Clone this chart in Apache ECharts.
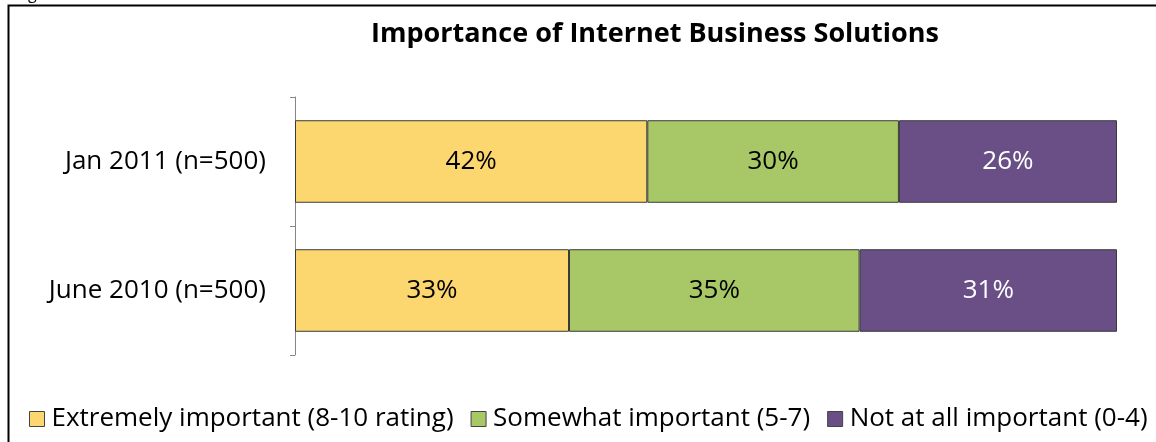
<!DOCTYPE html>
<html><head><meta charset="utf-8">
<script src="https://cdn.jsdelivr.net/npm/echarts@6/dist/echarts.min.js"></script>
<style>html,body{margin:0;padding:0;background:#fff}#c{width:1156px;height:442px}</style>
</head><body><div id="c"></div>
<script>
const categories = ['June 2010 (n=500)', 'Jan 2011 (n=500)'];
const seriesNames = ['Extremely important (8-10 rating)', 'Somewhat important (5-7)', 'Not at all important (0-4)'];
const extremely = [33, 42];
const somewhat = [35, 30];
const notAtAll = [31, 26];
const titleText = 'Importance of Internet Business Solutions';

const colors = ['#FCD66E', '#A8C766', '#6A4F87'];
const labelColors = ['#000', '#000', '#fff'];
const raw = [extremely, somewhat, notAtAll];
const totals = categories.map((_, i) => raw.reduce((s, arr) => s + arr[i], 0));
const FONT = 'Open Sans';

const chart = echarts.init(document.getElementById('c'));
chart.setOption({
  animation: false,
  backgroundColor: '#fff',
  title: {
    text: titleText, left: 650, top: 16, textAlign: 'center',
    textStyle: { fontFamily: FONT, fontWeight: 'bold', fontSize: 27, color: '#000' }
  },
  grid: { left: 295, right: 39, top: 97, bottom: 87, containLabel: false },
  xAxis: { type: 'value', min: 0, max: 100, show: false },
  yAxis: {
    type: 'category', data: categories,
    axisLine: { show: true, lineStyle: { color: '#868686', width: 1 } },
    axisTick: { show: true, length: 5, lineStyle: { color: '#868686' } },
    axisLabel: { fontFamily: FONT, fontSize: 26, color: '#000', margin: 29 }
  },
  legend: {
    left: 24, right: 0, top: 401, itemGap: 17, itemWidth: 15, itemHeight: 15, icon: 'rect',
    data: seriesNames,
    textStyle: { fontFamily: FONT, fontSize: 26, color: '#000', padding: [0, 0, 0, 2] },
    itemStyle: { borderColor: '#444', borderWidth: 1 }
  },
  graphic: [
    { type: 'rect', shape: { x: 8.5, y: 5.5, width: 1200, height: 500 },
      style: { fill: 'none', stroke: '#000', lineWidth: 2 }, silent: true },
    { type: 'text', x: 28, y: -14, style: { text: 'g', font: '16px "Open Sans"', fill: '#000' } }
  ],
  series: raw.map((arr, k) => ({
    name: seriesNames[k], type: 'bar', stack: 'total', barWidth: '64%',
    data: arr.map((v, i) => ({ value: v / totals[i] * 100, raw: v })),
    itemStyle: { color: colors[k], borderColor: '#3a3a3a', borderWidth: 1 },
    label: {
      show: true, position: 'inside', fontFamily: FONT, fontSize: 26, color: labelColors[k],
      formatter: p => arr[p.dataIndex] + '%'
    }
  }))
});
</script></body></html>
